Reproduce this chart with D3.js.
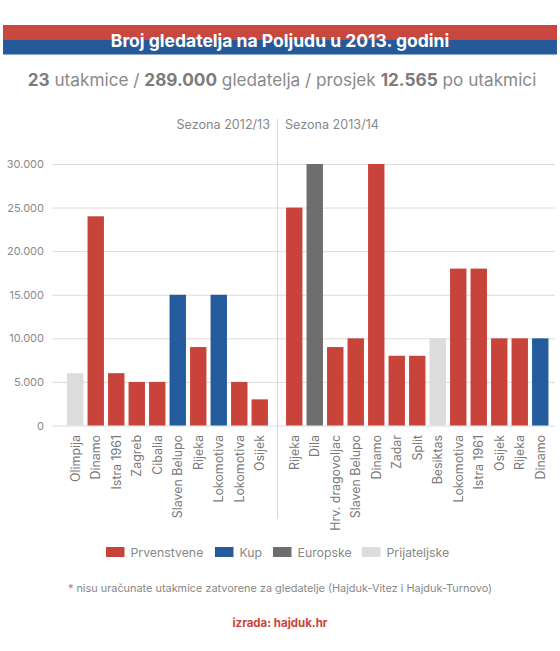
<!DOCTYPE html>
<html><head><meta charset="utf-8">
<script src="https://cdn.jsdelivr.net/npm/d3@7"></script>
<style>
html,body{margin:0;padding:0;background:#fff;}
svg{display:block;font-family:Inter,"Open Sans",sans-serif;}
</style></head>
<body>
<svg id="c" width="560" height="651"></svg>
<script>
const season1 = ["Olimpija","Dinamo","Istra 1961","Zagreb","Cibalia","Slaven Belupo","Rijeka","Lokomotiva","Lokomotiva","Osijek"];
const values1 = [6000,24000,6000,5000,5000,15000,9000,15000,5000,3000];
const types1 = ["Prijateljske","Prvenstvene","Prvenstvene","Prvenstvene","Prvenstvene","Kup","Prvenstvene","Kup","Prvenstvene","Prvenstvene"];
const season2 = ["Rijeka","Dila","Hrv. dragovoljac","Slaven Belupo","Dinamo","Zadar","Split","Besiktas","Lokomotiva","Istra 1961","Osijek","Rijeka","Dinamo"];
const values2 = [25000,30000,9000,10000,30000,8000,8000,10000,18000,18000,10000,10000,10000];
const types2 = ["Prvenstvene","Europske","Prvenstvene","Prvenstvene","Prvenstvene","Prvenstvene","Prvenstvene","Prijateljske","Prvenstvene","Prvenstvene","Prvenstvene","Prvenstvene","Kup"];
const seasonLabels = ["Sezona 2012/13","Sezona 2013/14"];
const legendTypes = ["Prvenstvene","Kup","Europske","Prijateljske"];
const yTicks = [0,5000,10000,15000,20000,25000,30000];

const colors = {"Prvenstvene":"#c8443b","Kup":"#245b9c","Europske":"#6e6e6e","Prijateljske":"#dcdcdc"};
const svg = d3.select("#c");
const fmt = d => d===0 ? "0" : d3.format(",")(d).replace(/,/g,".");

// Title band
svg.append("rect").attr("x",3).attr("y",25).attr("width",554).attr("height",15).attr("fill","#c8473e");
svg.append("rect").attr("x",3).attr("y",40).attr("width",554).attr("height",14.5).attr("fill","#25599a");
svg.append("text").attr("x",280).attr("y",46.5).attr("text-anchor","middle").attr("fill","#fff")
  .attr("font-size",17.5).attr("font-weight",700).text("Broj gledatelja na Poljudu u 2013. godini");

// Subtitle
const sub = svg.append("text").attr("x",282).attr("y",86).attr("text-anchor","middle").attr("fill","#858585").attr("font-size",17.2);
[["23",1],[" utakmice / ",0],["289.000",1],[" gledatelja / prosjek ",0],["12.565",1],[" po utakmici",0]]
  .forEach(([t,b])=>sub.append("tspan").attr("font-weight",b?700:400).attr("fill",b?"#7c7c7c":"#8a8a8a").text(t));

const y = d3.scaleLinear().domain([0,30000]).range([425.5,164]);
const x1 = d3.scaleBand().domain(d3.range(season1.length)).range([65,65+10*20.5]).paddingInner(0.2).paddingOuter(0.1);
const x2 = d3.scaleBand().domain(d3.range(season2.length)).range([284,284+13*20.5]).paddingInner(0.2).paddingOuter(0.1);

// grid
const grid = svg.append("g").attr("transform","translate(52,0)")
  .call(d3.axisLeft(y).tickValues(yTicks).tickSize(-503).tickFormat(""));
grid.select(".domain").remove();
grid.selectAll("line").attr("stroke","#dcdcdc").attr("stroke-width",1);

const ya = svg.append("g").attr("transform","translate(44,0)")
  .call(d3.axisLeft(y).tickValues(yTicks).tickSize(0).tickPadding(0).tickFormat(fmt));
ya.select(".domain").remove();
ya.selectAll("text").attr("fill","#8a8a8a").attr("font-size",11).attr("font-family","Inter,sans-serif");

// divider
svg.append("line").attr("x1",277.5).attr("x2",277.5).attr("y1",119).attr("y2",519).attr("stroke","#d8d8d8");
svg.append("text").attr("x",270).attr("y",129).attr("text-anchor","end").attr("fill","#888").attr("font-size",12.6).text(seasonLabels[0]);
svg.append("text").attr("x",285).attr("y",129).attr("text-anchor","start").attr("fill","#888").attr("font-size",12.6).text(seasonLabels[1]);

function drawGroup(names, vals, types, x){
  const g = svg.append("g");
  g.selectAll("rect").data(vals).join("rect")
    .attr("x",(d,i)=>x(i)).attr("width",x.bandwidth())
    .attr("y",d=>y(d)).attr("height",d=>y(0)-y(d))
    .attr("fill",(d,i)=>colors[types[i]]);
  g.selectAll("text").data(names).join("text")
    .attr("transform",(d,i)=>`translate(${x(i)+x.bandwidth()/2+4.5},435) rotate(-90)`)
    .attr("text-anchor","end").attr("fill","#7a7a7a").attr("font-size",12.4).text(d=>d);
}
drawGroup(season1,values1,types1,x1);
drawGroup(season2,values2,types2,x2);

// legend
const legX = [106,215,273,362];
const lg = svg.append("g");
legendTypes.forEach((t,i)=>{
  lg.append("rect").attr("x",legX[i]).attr("y",547).attr("width",18.5).attr("height",10).attr("fill",colors[t]);
  lg.append("text").attr("x",legX[i]+24.5).attr("y",557).attr("fill","#888").attr("font-size",12.3).text(t);
});

svg.append("text").attr("x",280).attr("y",592).attr("text-anchor","middle").attr("fill","#888").attr("font-size",10.9)
  .text("* nisu uračunate utakmice zatvorene za gledatelje (Hajduk-Vitez i Hajduk-Turnovo)");
svg.append("text").attr("x",280).attr("y",627).attr("text-anchor","middle").attr("fill","#c8443b").attr("font-size",11.5).attr("font-weight",700)
  .text("izrada: hajduk.hr");
</script>
</body></html>
